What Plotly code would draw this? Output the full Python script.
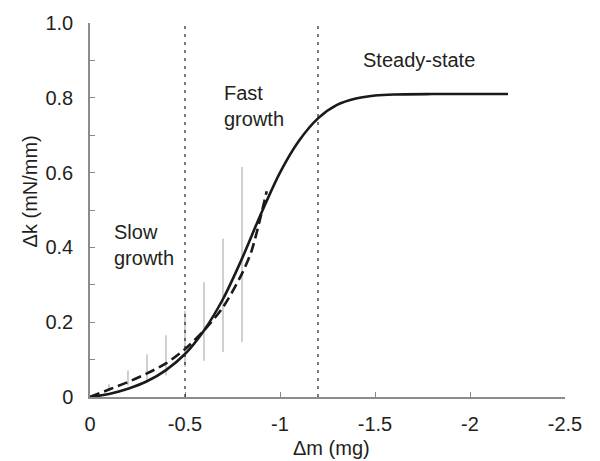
import plotly.graph_objects as go

# Solid model curve (Δm, Δk)
solid_m = [0, -0.1, -0.2, -0.3, -0.4, -0.5, -0.6, -0.7, -0.8, -0.9, -1.0, -1.1, -1.2,
           -1.3, -1.4, -1.5, -1.6, -1.8, -2.0, -2.2]
solid_k = [0, 0.008, 0.022, 0.042, 0.072, 0.115, 0.178, 0.262, 0.37, 0.49, 0.60,
           0.685, 0.745, 0.781, 0.798, 0.806, 0.809, 0.81, 0.81, 0.81]

# Dashed fit curve
dash_m = [0, -0.1, -0.2, -0.3, -0.4, -0.5, -0.6, -0.7, -0.8, -0.85, -0.93]
dash_k = [0, 0.02, 0.04, 0.063, 0.09, 0.128, 0.178, 0.24, 0.33, 0.39, 0.55]

# Gray error bars (vertical ranges)
bar_m = [-0.1, -0.2, -0.3, -0.4, -0.5, -0.6, -0.7, -0.8]
bar_lo = [0.018, 0.031, 0.045, 0.058, 0.08, 0.097, 0.12, 0.147]
bar_hi = [0.034, 0.071, 0.114, 0.165, 0.23, 0.307, 0.423, 0.615]

# Phase boundaries
boundaries = [-0.5, -1.2]

# Labels
labels = ["Slow<br>growth", "Fast<br>growth", "Steady-state"]
label_m = [-0.114, -0.693, -1.732]
label_k = [0.406, 0.777, 0.9]

x_title = "Δm (mg)"
y_title = "Δk (mN/mm)"

x_ticks = [0, -0.5, -1, -1.5, -2, -2.5]
x_ticktext = ["0", "-0.5", "-1", "-1.5", "-2", "-2.5"]
y_ticks = [0, 0.1, 0.2, 0.3, 0.4, 0.5, 0.6, 0.7, 0.8, 0.9, 1.0]
y_ticktext = ["0", "", "0.2", "", "0.4", "", "0.6", "", "0.8", "", "1.0"]

TXT = "#231f20"
FONT = "Liberation Sans, Arial, sans-serif"

fig = go.Figure()

# error bars as gray vertical segments
bx, by = [], []
for m, lo, hi in zip(bar_m, bar_lo, bar_hi):
    bx += [m, m, None]
    by += [lo, hi, None]
fig.add_trace(go.Scatter(x=bx, y=by, mode="lines",
                         line=dict(color="#c4c4c4", width=1.6),
                         hoverinfo="skip", showlegend=False))

fig.add_trace(go.Scatter(x=dash_m, y=dash_k, mode="lines",
                         line=dict(color="#1a1a1a", width=2.6, dash="10px,5px", shape="spline", smoothing=0.8),
                         showlegend=False))
fig.add_trace(go.Scatter(x=solid_m, y=solid_k, mode="lines",
                         line=dict(color="#1a1a1a", width=2.6, shape="spline", smoothing=0.8),
                         showlegend=False))

for b in boundaries:
    fig.add_shape(type="line", xref="x", yref="y", x0=b, x1=b, y0=0, y1=1.0,
                  line=dict(color="#222222", width=1.2, dash="3px,5px"))

for t, m, k in zip(labels, label_m, label_k):
    fig.add_annotation(x=m, y=k, text=t, showarrow=False,
                       xanchor="left" if "<br>" in t else "center",
                       align="left", yanchor="middle",
                       font=dict(family=FONT, size=20, color=TXT))

# axis titles as annotations for exact placement
fig.add_annotation(xref="paper", yref="paper", x=0.509, y=-0.137, text=x_title,
                   showarrow=False, xanchor="center", yanchor="middle",
                   font=dict(family=FONT, size=20, color=TXT))
fig.add_annotation(xref="paper", yref="paper", x=-0.126, y=0.55, text=y_title,
                   textangle=-90, showarrow=False, xanchor="center", yanchor="middle",
                   font=dict(family=FONT, size=20, color=TXT))

fig.update_layout(
    width=600, height=461,
    margin=dict(l=90, r=35, t=23, b=64, pad=0),
    plot_bgcolor="white", paper_bgcolor="white",
    font=dict(family=FONT, size=20, color=TXT),
)
fig.update_xaxes(range=[0, -2.5], tickvals=x_ticks, ticktext=x_ticktext,
                 ticks="inside", ticklen=5, tickcolor="#888888", tickwidth=1,
                 showline=True, linecolor="#8c8c8c", linewidth=1.5,
                 showgrid=False, zeroline=False,
                 tickfont=dict(size=20),
                 ticklabelstandoff=8)
fig.update_yaxes(range=[0, 1.0], tickvals=y_ticks, ticktext=y_ticktext,
                 ticks="inside", ticklen=5, tickcolor="#888888", tickwidth=1,
                 showline=True, linecolor="#8c8c8c", linewidth=1.5,
                 showgrid=False, zeroline=False,
                 tickfont=dict(size=20),
                 ticklabelstandoff=11)

fig.write_html("out.html")
